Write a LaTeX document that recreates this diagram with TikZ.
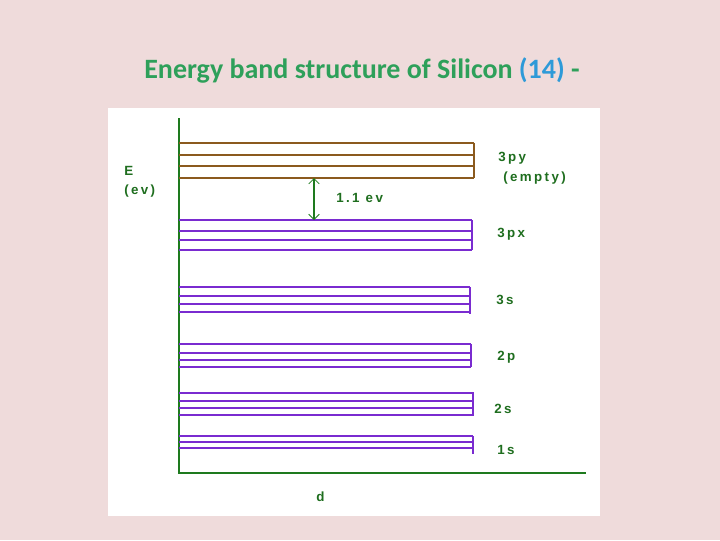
\documentclass[tikz,border=0pt]{standalone}
\usetikzlibrary{arrows.meta}
\usepackage{fontspec}
\setmainfont{Liberation Sans}
\newfontfamily\titlefont{Carlito}
\newfontfamily\labfont[LetterSpace=18]{Liberation Sans Bold}
\definecolor{bg}{HTML}{EFDBDB}
\definecolor{ttl}{HTML}{2EA05A}
\definecolor{tblue}{HTML}{2E9AD8}
\definecolor{ax}{HTML}{1E7A1E}
\definecolor{brn}{HTML}{8B5A1E}
\definecolor{pur}{HTML}{7A2BD0}
\definecolor{lbl}{HTML}{1F6E1F}
\begin{document}
\begin{tikzpicture}[x=0.75pt,y=-0.75pt,
  lab/.style={font=\labfont\fontsize{10}{12}\selectfont,text=lbl,anchor=west,inner sep=0pt},
  bl/.style={pur,line width=0.8pt}]
\fill[bg] (0,0) rectangle (720,540);
\useasboundingbox (0,0) rectangle (720,540);
\fill[white] (108,108) rectangle (600,516);
\node[font=\titlefont\bfseries\fontsize{21}{24}\selectfont,text=ttl] (title) at (362,70) {Energy band structure of Silicon \textcolor{tblue}{(14)} -};
% axes
\coordinate (o) at (179,473);
\coordinate (top) at (179,118);
\coordinate (xe) at (586,473);
\draw[ax,line width=1.6pt] (top) -- (o) -- (xe);
% 3py brown band
\foreach \y in {143,155,166,178} \draw[brn,line width=1.3pt] (179,\y) -- (474,\y);
\draw[brn,line width=1.3pt] (474,143) -- (474,178);
% 3px
\foreach \y/\w in {220/1.6,231/0.8,240/0.8,250/1.6} \draw[pur,line width=\w pt] (179,\y) -- (472,\y);
\draw[pur,line width=1.4pt] (472,220) -- (472,250);
% 3s
\foreach \y in {287,296,304,312} \draw[bl] (179,\y) -- (470,\y);
\draw[pur,line width=1.2pt] (470,287) -- (470,314);
% 2p
\foreach \y in {344,353,360,367} \draw[bl] (179,\y) -- (471,\y);
\draw[pur,line width=1.2pt] (471,344) -- (471,367);
% 2s
\foreach \y in {393,401,408,415} \draw[bl] (179,\y) -- (473,\y);
\draw[bl] (473,392) -- (473,416);
% 1s
\foreach \y in {436,442,448} \draw[bl] (179,\y) -- (473,\y);
\draw[bl] (473,436) -- (473,454);
% gap arrow
\coordinate (ga) at (314,178);
\coordinate (gb) at (314,220);
\draw[ax,line width=1.6pt,<->,>={Straight Barb[length=4pt,width=8pt,line width=0.6pt]}] (ga) -- (gb);
% labels
\node[lab] (l11) at (336,198) {1.1 ev};
\node[lab] (l3py) at (498,158) {3py};
\node[lab] (lemp) at (503,178) {(empty)};
\node[lab] (l3px) at (497,234) {3px};
\node[lab] (l3s) at (496,300) {3s};
\node[lab] (l2p) at (497,357) {2p};
\node[lab] (l2s) at (494,409) {2s};
\node[lab] (l1s) at (497,450) {1s};
\node[lab] (ld) at (316,497) {d};
\node[lab] (lE) at (124,171) {E};
\node[lab] (lev) at (124,191) {(ev)};
\end{tikzpicture}
\end{document}
